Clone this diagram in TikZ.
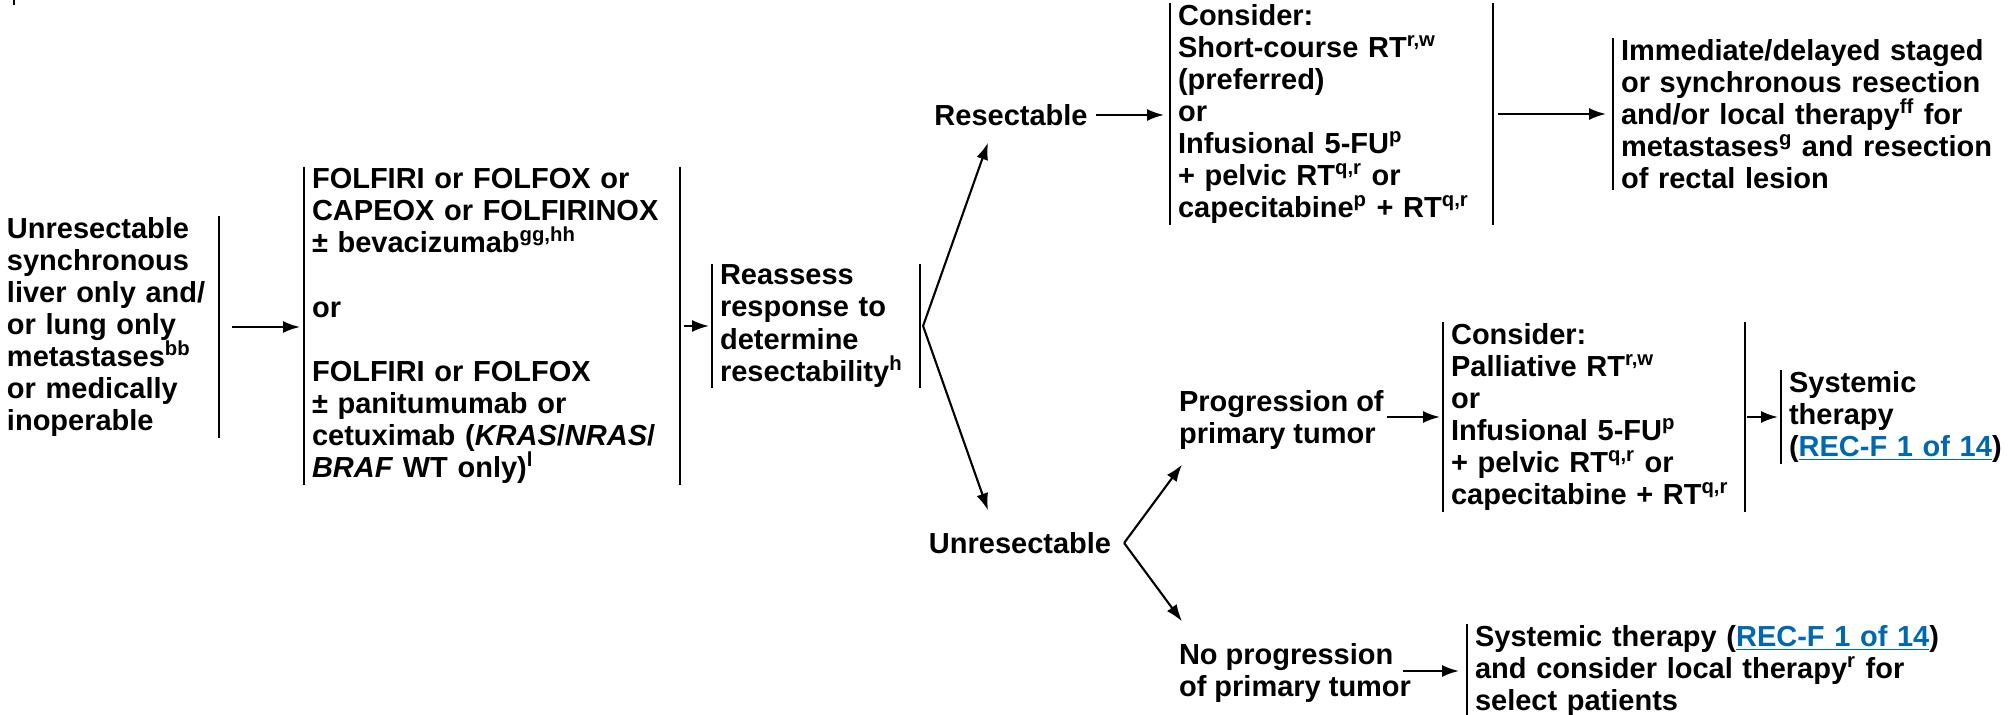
\documentclass[tikz,border=0pt]{standalone}
\usepackage{fontspec}
\setmainfont{Liberation Sans}
\usepackage{tikz}
\usetikzlibrary{positioning}
\usetikzlibrary{calc}
\usetikzlibrary{arrows.meta}
\definecolor{linkblue}{RGB}{0,104,176}
\newcommand{\fsz}{\fontsize{16.5pt}{18.27pt}\selectfont\bfseries\lineskiplimit=-50pt}
\newcommand{\reflink}[1]{\textcolor{linkblue}{\underline{#1}}}
\tikzset{every picture/.style={line width=1.2pt},
  arr/.style={-{Latex[length=0.34cm,width=0.24cm]}},
  lbl/.style={inner sep=0pt,align=left,font=\fsz},
  barbox/.style={inner xsep=0.14cm,inner ysep=0pt,align=left,font=\fsz,anchor=west}}
\begin{document}
\begin{tikzpicture}[x=0.02cm,y=-0.02cm]
\useasboundingbox (0,0) rectangle (2011,715);
\draw (14,0) -- (14,5);
% first column
\node[barbox,anchor=east,inner xsep=0.12cm,text width=4.1cm] (src) at (219,327) {Unresectable\\synchronous\\liver only and/\\or lung only\\metastases\textsuperscript{bb}\\or medically\\inoperable};
\draw (src.north east) -- (src.south east);
\node[barbox,text width=7.2cm] (chemo) at (304,326) {FOLFIRI or FOLFOX or\\CAPEOX or FOLFIRINOX\\± bevacizumab\textsuperscript{gg,hh}\\[18.27pt]or\\[18.27pt]FOLFIRI or FOLFOX\\± panitumumab or\\cetuximab (\textit{KRAS}/\textit{NRAS}/\\\textit{BRAF} WT only)\textsuperscript{l}};
\draw (chemo.north west) -- (chemo.south west);
\draw (chemo.north east) -- (chemo.south east);
\draw[arr,shorten <=0.26cm,shorten >=0.08cm] (src.east) -- (src.east -| chemo.west);
\node[barbox,text width=3.84cm] (reasm) at (712,326) {Reassess\\response to\\determine\\resectability\textsuperscript{h}};
\draw (reasm.north west) -- (reasm.south west);
\draw (reasm.north east) -- (reasm.south east);
\draw[arr,shorten <=0.08cm,shorten >=0.06cm] (chemo.east) -- (chemo.east -| reasm.west);
\coordinate (fk1) at ($(reasm.east)+(3,0)$);
% resectable branch
\node[lbl] (resect) at (1011,115) {Resectable};
\node[barbox,text width=6.14cm] (cons1) at (1170,114) {Consider:\\Short-course RT\textsuperscript{r,w}\\(preferred)\\or\\Infusional 5-FU\textsuperscript{p}\\+ pelvic RT\textsuperscript{q,r} or\\capecitabine\textsuperscript{p} + RT\textsuperscript{q,r}};
\draw (cons1.north west) -- (cons1.south west);
\draw (cons1.north east) -- (cons1.south east);
\node[barbox,text width=7.6cm] (immed) at (1613,114) {Immediate/delayed staged\\or synchronous resection\\and/or local therapy\textsuperscript{ff} for\\metastases\textsuperscript{g} and resection\\of rectal lesion};
\draw (immed.north west) -- (immed.south west);
\draw[arr] (fk1) -- ($(resect.south)+(-23,16)$);
\draw[arr,shorten <=0.15cm,shorten >=0.12cm] (resect.east) -- (resect.east -| cons1.west);
\draw[arr,shorten <=0.1cm,shorten >=0.14cm] (cons1.east) -- (cons1.east -| immed.west);
% unresectable branch
\node[lbl] (unres) at (1020,543) {Unresectable};
\draw[arr] (fk1) -- ($(unres.north)+(-32,-21)$);
\coordinate (fk2) at ($(unres.east)+(12,0)$);
\node[lbl,anchor=west] (prog) at (1178,420) {Progression of\\primary tumor};
\node[lbl,anchor=west] (noprog) at (1178,673) {No progression\\of primary tumor};
\draw[arr] (fk2) -- ($(prog.south west)+(4,14)$);
\draw[arr] (fk2) -- ($(noprog.north west)+(4,-21)$);
\node[barbox,text width=5.72cm] (cons2) at (1443,417) {Consider:\\Palliative RT\textsuperscript{r,w}\\or\\Infusional 5-FU\textsuperscript{p}\\+ pelvic RT\textsuperscript{q,r} or\\capecitabine + RT\textsuperscript{q,r}};
\draw (cons2.north west) -- (cons2.south west);
\draw (cons2.north east) -- (cons2.south east);
\draw[arr,shorten <=0.04cm,shorten >=0.06cm] (prog.east |- cons2.west) -- (cons2.west);
\node[barbox,text width=4.3cm] (sys) at (1781,417) {Systemic\\therapy\\(\reflink{REC-F 1 of 14})};
\draw (sys.north west) -- (sys.south west);
\draw[arr,shorten <=0.04cm,shorten >=0.06cm] (cons2.east) -- (sys.west);
\node[barbox,text width=9.5cm] (nbox) at (1467,671) {Systemic therapy (\reflink{REC-F 1 of 14})\\and consider local therapy\textsuperscript{r} for\\select patients};
\draw (nbox.north west) -- (nbox.south west);
\draw[arr,shorten >=0.16cm] ($(noprog.east |- nbox.west)+(-9,0)$) -- (nbox.west);
\end{tikzpicture}
\end{document}
